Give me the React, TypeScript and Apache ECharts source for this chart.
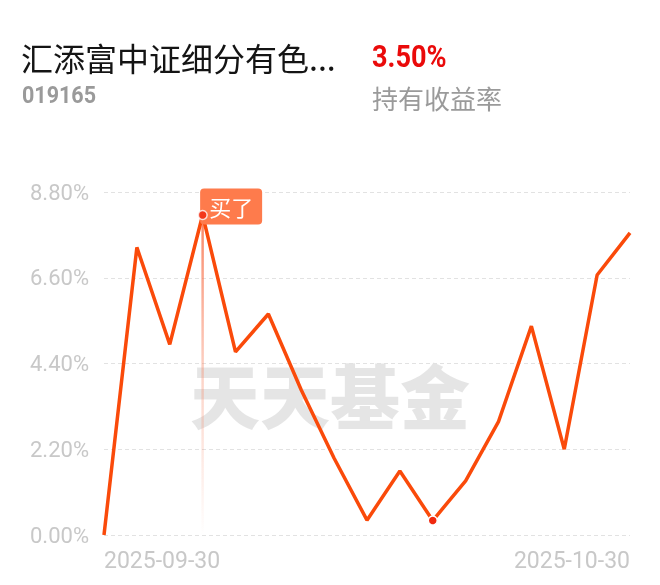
import React, { useEffect, useRef } from 'react';
import * as echarts from 'echarts';

const dates = [
  '2025-09-30', '2025-10-09', '2025-10-10', '2025-10-13', '2025-10-14', '2025-10-15',
  '2025-10-16', '2025-10-17', '2025-10-20', '2025-10-21', '2025-10-22', '2025-10-23',
  '2025-10-24', '2025-10-27', '2025-10-28', '2025-10-29', '2025-10-30',
];
const returns = [0, 7.38, 4.89, 8.21, 4.7, 5.67, 3.72, 1.97, 0.38, 1.64, 0.37, 1.39, 2.91, 5.36, 2.2, 6.67, 7.75];
const buyIndex = 3;
const markIndex = 10;
const yMin = 0;
const yMax = 8.8;
const yStep = 2.2;

const fundName = '汇添富中证细分有色...';
const fundCode = '019165';
const holdReturn = '3.50%';
const holdReturnLabel = '持有收益率';
const buyLabel = '买了';
const watermark = '天天基金';

const CJK = '"Noto Sans CJK SC", sans-serif';

export default function App() {
  const ref = useRef<HTMLDivElement>(null);
  useEffect(() => {
    const chart = echarts.init(ref.current!, null, { renderer: 'svg' });
    const dotStyle = { color: '#f0280f', borderColor: '#ffffff', borderWidth: 1.5 };
    chart.setOption({
      animation: false,
      grid: { left: 104, right: 30, top: 192, bottom: 50, containLabel: false },
      graphic: [
        {
          type: 'text', x: 21, y: 57, z: 10,
          style: { text: fundName, fontSize: 32, fontFamily: CJK, fill: '#141414', align: 'left', verticalAlign: 'middle' },
        },
        {
          type: 'text', x: 22, y: 95, z: 10, scaleX: 0.915,
          style: { text: fundCode, fontSize: 23.5, fontWeight: 'bold', fontFamily: 'Roboto', fill: '#9a9a9a', align: 'left', verticalAlign: 'middle' },
        },
        {
          type: 'text', x: 372, y: 56, z: 10, scaleX: 0.875,
          style: { text: holdReturn, fontSize: 31, fontWeight: 'bold', fontFamily: 'Roboto', fill: '#ea0a0a', align: 'left', verticalAlign: 'middle' },
        },
        {
          type: 'text', x: 372, y: 97, z: 10,
          style: { text: holdReturnLabel, fontSize: 26, fontFamily: CJK, fill: '#9a9a9a', align: 'left', verticalAlign: 'middle' },
        },
        {
          type: 'text', x: 330, y: 393, z: 0, silent: true,
          style: { text: watermark, fontSize: 70, fontWeight: 900, fontFamily: CJK, fill: 'rgba(0,0,0,0.1)', align: 'center', verticalAlign: 'middle' },
        },
      ],
      xAxis: {
        type: 'category',
        boundaryGap: false,
        data: dates,
        axisLine: { show: false },
        axisTick: { show: false },
        splitLine: { show: false },
        axisLabel: {
          interval: (i: number) => i === 0 || i === dates.length - 1,
          alignMinLabel: 'left',
          alignMaxLabel: 'right',
          color: '#c8c8c8',
          fontSize: 23,
          fontFamily: 'Roboto',
          margin: 14,
        },
      },
      yAxis: {
        type: 'value',
        min: yMin,
        max: yMax,
        interval: yStep,
        axisLine: { show: false },
        axisTick: { show: false },
        axisLabel: {
          formatter: (v: number) => v.toFixed(2) + '%',
          color: '#c8c8c8',
          fontSize: 22,
          fontFamily: 'Roboto',
          margin: 15,
        },
        splitLine: { lineStyle: { color: '#e2e2e2', type: [4, 3], width: 1.2 } },
      },
      series: [
        {
          type: 'bar',
          silent: true,
          z: 1,
          barWidth: 2.5,
          data: dates.map((_, i) => (i === buyIndex ? returns[i] : '-')),
          itemStyle: {
            color: new echarts.graphic.LinearGradient(0, 0, 0, 1, [
              { offset: 0, color: 'rgba(248,110,70,0.85)' },
              { offset: 0.5, color: 'rgba(248,130,95,0.35)' },
              { offset: 1, color: 'rgba(248,130,95,0)' },
            ]),
          },
        },
        {
          type: 'line',
          z: 3,
          showSymbol: true,
          symbolSize: 9,
          lineStyle: { color: '#fa4a0a', width: 3.5 },
          itemStyle: dotStyle,
          data: returns.map((v, i) => {
            const item: any = { value: v, symbol: i === markIndex ? 'circle' : 'none' };
            if (i === buyIndex) {
              item.symbol = 'circle';
              item.symbolSize = 1;
              item.itemStyle = { color: 'rgba(0,0,0,0)', borderWidth: 0 };
              item.label = {
                show: true,
                formatter: buyLabel,
                position: [-2, -26],
                color: '#ffffff',
                fontSize: 22,
                lineHeight: 26,
                fontFamily: CJK,
                backgroundColor: '#fe7b4c',
                borderRadius: 4,
                padding: [5, 9, 5, 9],
              };
            }
            return item;
          }),
        },
        {
          type: 'scatter',
          z: 6,
          silent: true,
          symbolSize: 9,
          itemStyle: dotStyle,
          data: dates.map((_, i) => (i === buyIndex ? returns[i] : '-')),
        },
      ],
    });
    return () => chart.dispose();
  }, []);
  return <div ref={ref} style={{ position: 'fixed', left: 0, top: 0, width: 660, height: 585 }} />;
}
